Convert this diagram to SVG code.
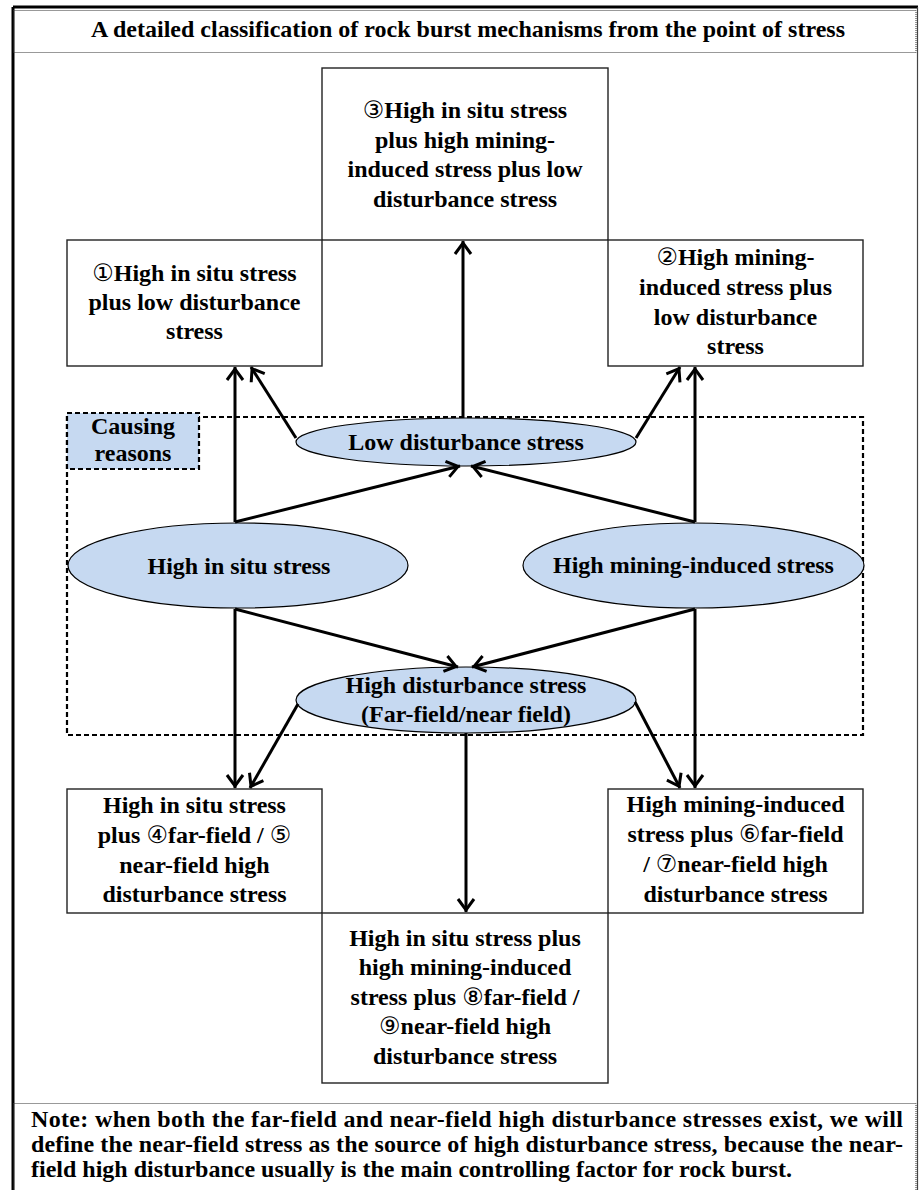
<svg xmlns="http://www.w3.org/2000/svg" width="920" height="1190" viewBox="0 0 920 1190">
<style>
.t{font-family:"Liberation Serif","Times New Roman",serif;font-weight:bold;font-size:24px;text-anchor:middle;fill:#000}
.s{font-family:"Liberation Serif","Times New Roman",serif;font-weight:bold;font-size:24px;text-anchor:start;fill:#000}
.c{font-family:"DejaVu Sans",sans-serif;font-weight:normal}
.box{fill:#fff;stroke:#222;stroke-width:1.4}
.ell{fill:#C6D9F1;stroke:#000;stroke-width:1.2}
.dot{fill:none;stroke:#333;stroke-width:1;stroke-dasharray:1 1}
.dash{fill:none;stroke:#000;stroke-width:2.2;stroke-dasharray:5 3}
.conn{fill:none;stroke:#000;stroke-width:3}
</style>
<defs>
<marker id="ah" markerUnits="userSpaceOnUse" markerWidth="30" markerHeight="30" viewBox="-20 -15 30 30" refX="2" refY="0" orient="auto" overflow="visible">
<path d="M-11,-8 L0,0 L-11,8" fill="none" stroke="#000" stroke-width="3"/>
</marker>
</defs>
<rect width="920" height="1190" fill="#fff"/>
<g id="frame">
<line x1="13" y1="7" x2="918" y2="7" stroke="#000" stroke-width="3"/>
<line x1="13" y1="7" x2="13" y2="1190" stroke="#000" stroke-width="3"/>
<line x1="917.5" y1="7" x2="917.5" y2="1190" stroke="#444" stroke-width="1.2"/>
</g>
<g id="title">
<rect class="dot" x="13.5" y="10.5" width="902.5" height="42"/>
<text class="t" x="468" y="37">A detailed classification of rock burst mechanisms from the point of stress</text>
</g>
<g id="causing-area">
<rect class="dash" x="67" y="417" width="796" height="318"/>
</g>
<g id="causing-label">
<rect x="67" y="413" width="132" height="56" fill="#C6D9F1" stroke="#000" stroke-width="2.2" stroke-dasharray="5 3"/>
<text class="t" x="133" y="434">Causing</text>
<text class="t" x="133" y="461">reasons</text>
</g>
<g id="box3">
<rect class="box" x="322" y="68" width="286" height="172"/>
<text class="t" x="465" y="118"><tspan class="c">③</tspan>High in situ stress</text>
<text class="t" x="465" y="147.5">plus high mining-</text>
<text class="t" x="465" y="177">induced stress plus low</text>
<text class="t" x="465" y="206.5">disturbance stress</text>
</g>
<g id="box1">
<rect class="box" x="67" y="240" width="255" height="126"/>
<text class="t" x="194.5" y="281"><tspan class="c">①</tspan>High in situ stress</text>
<text class="t" x="194.5" y="310">plus low disturbance</text>
<text class="t" x="194.5" y="339">stress</text>
</g>
<g id="box2">
<rect class="box" x="608" y="240" width="255" height="126"/>
<text class="t" x="735.5" y="265"><tspan class="c">②</tspan>High mining-</text>
<text class="t" x="735.5" y="295">induced stress plus</text>
<text class="t" x="735.5" y="324.5">low disturbance</text>
<text class="t" x="735.5" y="354">stress</text>
</g>
<g id="low-disturbance">
<ellipse class="ell" cx="466" cy="442" rx="170" ry="24"/>
<text class="t" x="466" y="450">Low disturbance stress</text>
</g>
<g id="high-insitu">
<ellipse class="ell" cx="238" cy="565.5" rx="170" ry="42.5"/>
<text class="t" x="239" y="574">High in situ stress</text>
</g>
<g id="high-mining">
<ellipse class="ell" cx="693.5" cy="565.5" rx="170.5" ry="42.5"/>
<text class="t" x="693.5" y="573">High mining-induced stress</text>
</g>
<g id="high-disturbance">
<ellipse class="ell" cx="466" cy="700" rx="170" ry="33"/>
<text class="t" x="466" y="693">High disturbance stress</text>
<text class="t" x="466" y="722">(Far-field/near field)</text>
</g>
<g id="box45">
<rect class="box" x="67" y="789" width="255" height="124"/>
<text class="t" x="194.5" y="813">High in situ stress</text>
<text class="t" x="194.5" y="843">plus <tspan class="c">④</tspan>far-field / <tspan class="c">⑤</tspan></text>
<text class="t" x="194.5" y="872.5">near-field high</text>
<text class="t" x="194.5" y="902">disturbance stress</text>
</g>
<g id="box67">
<rect class="box" x="608" y="789" width="255" height="124"/>
<text class="t" x="735.5" y="812">High mining-induced</text>
<text class="t" x="735.5" y="842">stress plus <tspan class="c">⑥</tspan>far-field</text>
<text class="t" x="735.5" y="872">/ <tspan class="c">⑦</tspan>near-field high</text>
<text class="t" x="735.5" y="902">disturbance stress</text>
</g>
<g id="box89">
<rect class="box" x="322" y="913" width="286" height="170"/>
<text class="t" x="465" y="945.5">High in situ stress plus</text>
<text class="t" x="465" y="975">high mining-induced</text>
<text class="t" x="465" y="1004.5">stress plus <tspan class="c">⑧</tspan>far-field /</text>
<text class="t" x="465" y="1034"><tspan class="c">⑨</tspan>near-field high</text>
<text class="t" x="465" y="1063.5">disturbance stress</text>
</g>
<g id="connectors">
<path class="conn" marker-end="url(#ah)" d="M235,522 L235,367"/>
<path class="conn" marker-end="url(#ah)" d="M296,438 L251,367"/>
<path class="conn" marker-end="url(#ah)" d="M463,418 L463,241"/>
<path class="conn" marker-end="url(#ah)" d="M636,438 L680,367"/>
<path class="conn" marker-end="url(#ah)" d="M695,522 L695,367"/>
<path class="conn" marker-end="url(#ah)" d="M235,522 L460,466"/>
<path class="conn" marker-end="url(#ah)" d="M695,522 L471,466"/>
<path class="conn" marker-end="url(#ah)" d="M235,609 L235,788"/>
<path class="conn" marker-end="url(#ah)" d="M235,609 L458,667"/>
<path class="conn" marker-end="url(#ah)" d="M695,609 L472,667"/>
<path class="conn" marker-end="url(#ah)" d="M695,609 L695,788"/>
<path class="conn" marker-end="url(#ah)" d="M298,704 L250,788"/>
<path class="conn" marker-end="url(#ah)" d="M635,702 L680,788"/>
<path class="conn" marker-end="url(#ah)" d="M466,733 L466,912"/>
</g>
<g id="note">
<rect class="dot" x="13.5" y="1103.5" width="902.5" height="100"/>
<text class="s" x="31" y="1127" textLength="872" lengthAdjust="spacing">Note: when both the far-field and near-field high disturbance stresses exist, we will</text>
<text class="s" x="31" y="1152" textLength="872" lengthAdjust="spacing">define the near-field stress as the source of high disturbance stress, because the near-</text>
<text class="s" x="31" y="1177">field high disturbance usually is the main controlling factor for rock burst.</text>
</g>
</svg>
